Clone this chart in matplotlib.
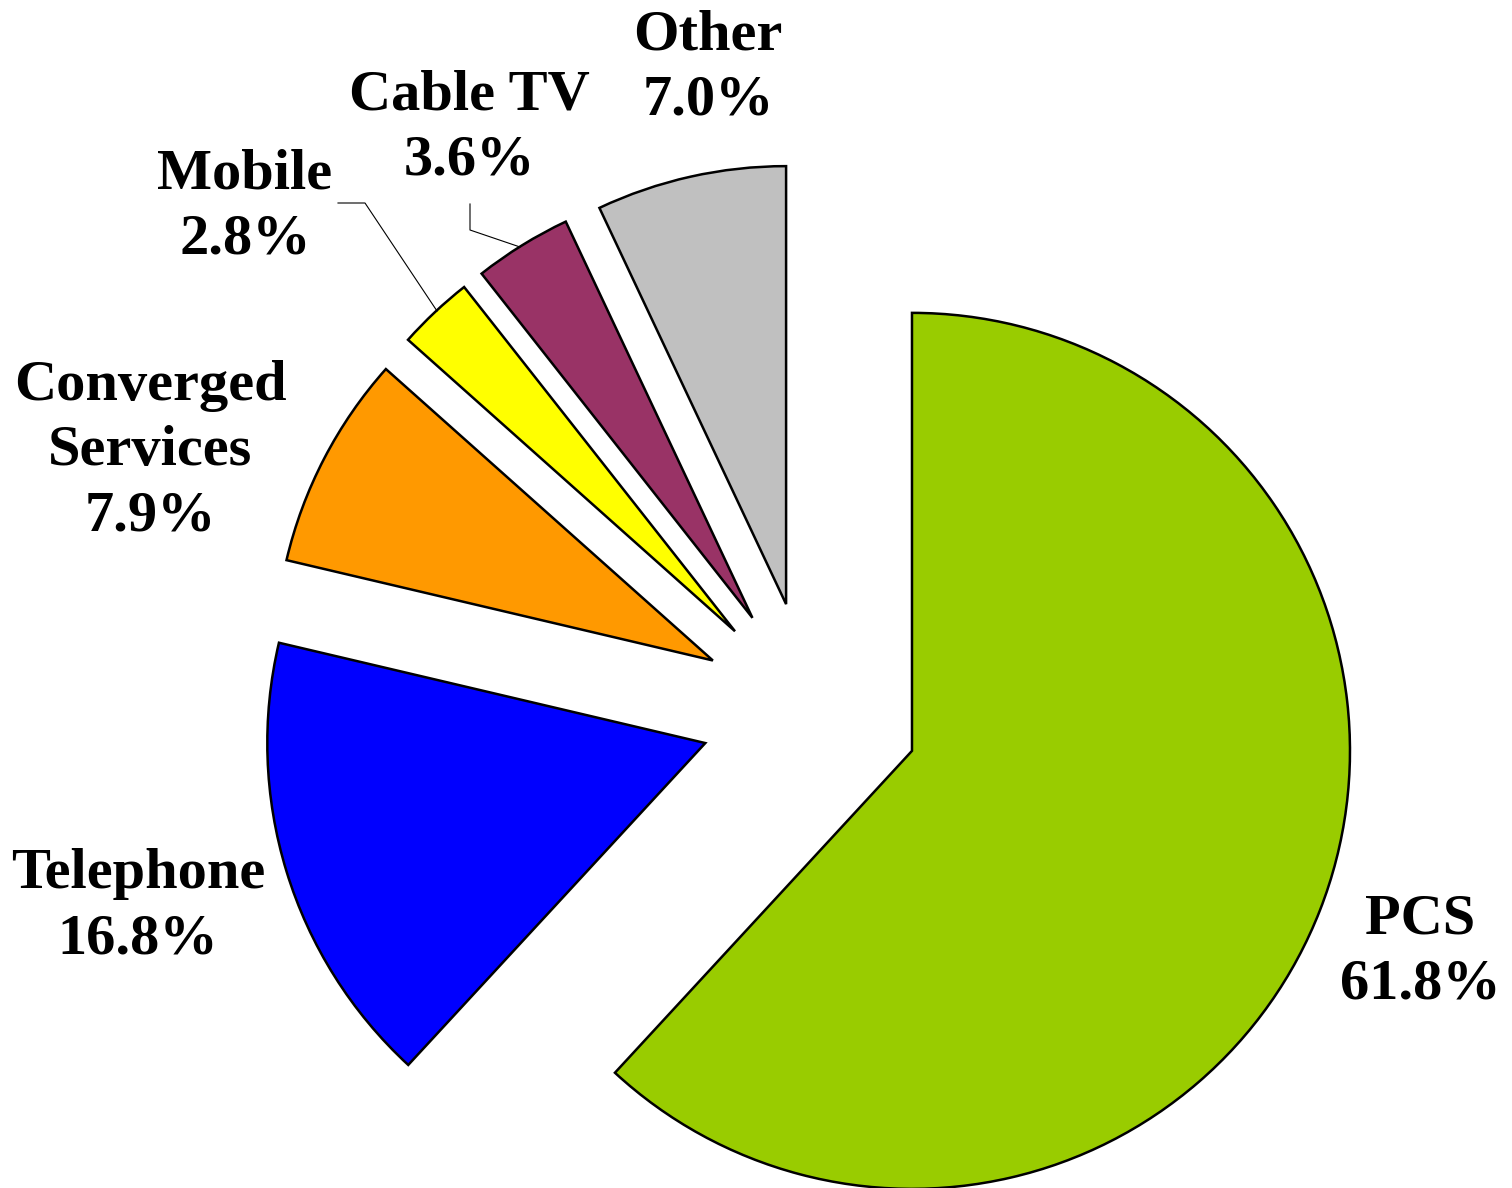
import matplotlib
matplotlib.use("Agg")
import matplotlib.pyplot as plt

# Market share by segment
categories = ["PCS", "Telephone", "Converged\nServices", "Mobile", "Cable TV", "Other"]
shares = [61.8, 16.8, 7.9, 2.8, 3.6, 7.0]
colors = ["#99CC00", "#0000FF", "#FF9900", "#FFFF00", "#993366", "#C0C0C0"]

W, H = 1512, 1188
CX, CY, R = 810, 711, 438  # pie centre and radius in pixels (y from top)


def px(x, y):
    """Pixel position (y measured from top) -> data coordinates (radius = 1)."""
    return (x - CX) / R, (CY - y) / R


fig = plt.figure(figsize=(W / 100, H / 100), dpi=100)
ax = fig.add_axes([0, 0, 1, 1])

ax.pie(shares, colors=colors, startangle=90, counterclock=False,
       explode=[0.25] * len(shares), radius=1.0, center=(0, 0),
       wedgeprops=dict(edgecolor="black", linewidth=1.8))

x0, y0 = px(0, H)
x1, y1 = px(W, 0)
ax.set_xlim(x0, x1)
ax.set_ylim(y0, y1)
ax.set_aspect("auto")
ax.axis("off")

font = dict(family="Liberation Serif", fontweight="bold", fontsize=42,
            ha="center", va="center", linespacing=1.33)

label_pos = [(1420, 952), (138, 907), (150, 451), (245, 207), (469, 128), (708, 68)]
for name, val, (lx, ly) in zip(categories, shares, label_pos):
    ax.text(*px(lx, ly), f"{name}\n{val:.1f}%", **font)

# Leader lines for the two small slices
mob = [px(338, 203), px(365, 203), px(437, 311)]
ax.plot([p[0] for p in mob], [p[1] for p in mob], color="black", lw=0.8)
cab = [px(470, 204), px(470, 230), px(520, 247)]
ax.plot([p[0] for p in cab], [p[1] for p in cab], color="black", lw=0.8)

fig.savefig("out.png", dpi=100, facecolor="white")
